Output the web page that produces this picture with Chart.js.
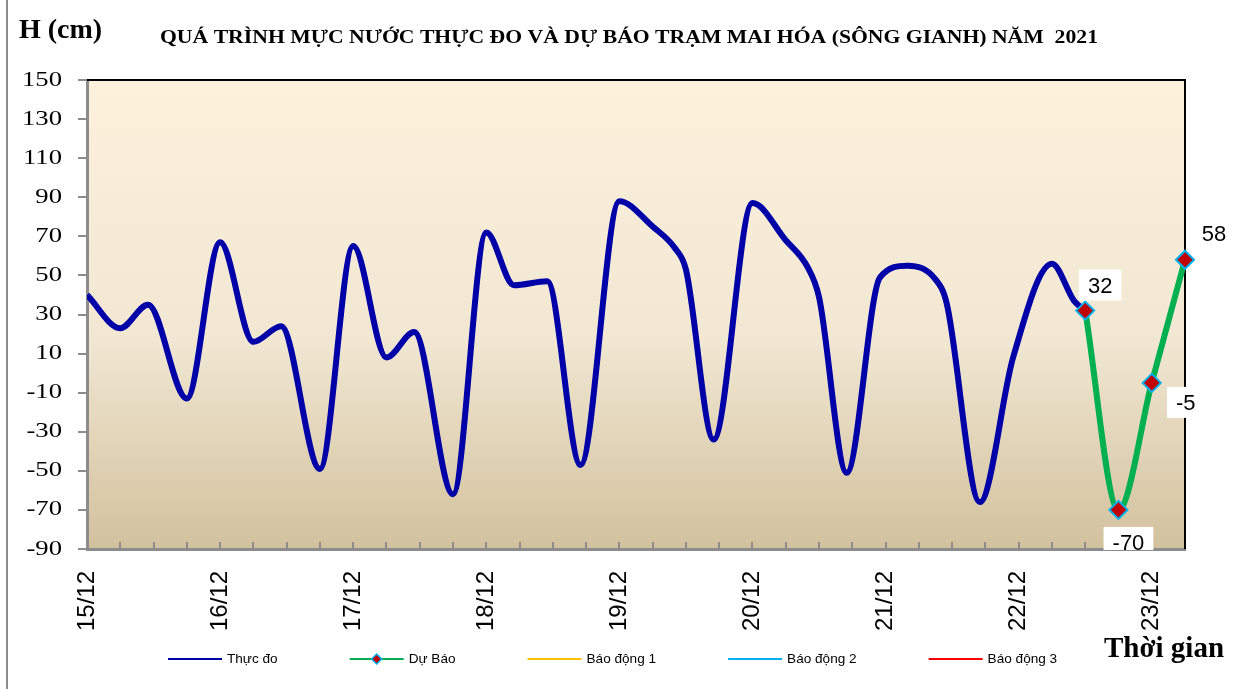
<!DOCTYPE html>
<html>
<head>
<meta charset="utf-8">
<script src="https://cdn.jsdelivr.net/npm/chart.js@4.4.0/dist/chart.umd.min.js"></script>
<style>
  html, body { margin: 0; padding: 0; background: #fff; }
  canvas { display: block; }
</style>
</head>
<body>
<canvas id="waterLevel" width="1237" height="689"></canvas>
<script>
// nhãn ngày trên trục hoành (mỗi 24 giờ)
const dayLabels = ['15/12', '16/12', '17/12', '18/12', '19/12', '20/12', '21/12', '22/12', '23/12'];

// số giờ tính từ 00h ngày 15/12
const measuredHours = [0, 6, 11, 18, 24, 30, 35, 42, 48, 54, 59, 66, 72, 77, 83, 89, 96, 102, 106, 108,
  113, 120, 126, 130, 132, 137, 143, 148, 153, 155, 161, 167, 174, 178, 180];
const measuredLevels = [40, 23, 35, -13, 67, 16, 24, -49, 65, 8, 21, -62, 72, 45, 47, -47, 88, 75, 64, 53,
  -34, 87, 68, 54, 39, -51, 49, 55, 48, 36, -66, 8, 56, 37, 32];

const forecastHours = [180, 186, 192, 198];
const forecastLevels = [32, -70, -5, 58];

const alarmNames = ['Báo động 1', 'Báo động 2', 'Báo động 3'];
const alarmColors = ['#ffc000', '#00b0f0', '#ff0000'];

// vị trí nhãn giá trị dự báo so với điểm (px)
const labelOffsets = [[15, -25], [10, 33], [34, 20], [29, -26]];

const toPoints = (xs, ys) => xs.map((x, i) => ({ x: x, y: ys[i] }));

const ctx = document.getElementById('waterLevel').getContext('2d');

const plotBg = {
  id: 'plotBg',
  beforeDraw(chart) {
    const c = chart.ctx, a = chart.chartArea;
    c.save();
    c.fillStyle = '#fff';
    c.fillRect(0, 0, chart.width, chart.height);
    const g = c.createLinearGradient(0, a.top, 0, a.bottom);
    g.addColorStop(0, '#fdf1dc');
    g.addColorStop(0.55, '#f1e7d3');
    g.addColorStop(1, '#d2c19d');
    c.fillStyle = g;
    c.fillRect(a.left, a.top, a.right - a.left, a.bottom - a.top);
    // khung ngoài bên trái
    c.strokeStyle = '#8c8c8c';
    c.lineWidth = 2;
    c.beginPath();
    c.moveTo(7, 0);
    c.lineTo(7, chart.height);
    c.stroke();
    c.restore();
  },
  beforeDatasetsDraw(chart) {
    const c = chart.ctx, a = chart.chartArea, xs = chart.scales.x;
    c.save();
    // vạch chia hướng vào trong trên trục hoành
    c.strokeStyle = '#8c8c8c';
    c.lineWidth = 2;
    xs.ticks.forEach(t => {
      const px = Math.round(xs.getPixelForValue(t.value));
      c.beginPath();
      c.moveTo(px, a.bottom - 7);
      c.lineTo(px, a.bottom);
      c.stroke();
    });
    // viền trên và phải
    c.strokeStyle = '#000';
    c.lineWidth = 2;
    c.beginPath();
    c.moveTo(a.left, a.top);
    c.lineTo(a.right, a.top);
    c.lineTo(a.right, a.bottom);
    c.stroke();
    c.restore();
  },
  afterDatasetsDraw(chart) {
    const c = chart.ctx, a = chart.chartArea;
    const meta = chart.getDatasetMeta(1);
    c.save();
    c.beginPath();
    c.rect(0, 0, chart.width, a.bottom + 1);
    c.clip();
    c.font = '22px "Liberation Sans", Arial, sans-serif';
    c.textAlign = 'center';
    c.textBaseline = 'middle';
    meta.data.forEach((pt, i) => {
      const txt = String(forecastLevels[i]);
      const cx = pt.x + labelOffsets[i][0], cy = pt.y + labelOffsets[i][1];
      const w = c.measureText(txt).width + 18;
      c.fillStyle = '#fff';
      c.fillRect(cx - w / 2, cy - 16, w, 31);
      c.fillStyle = '#000';
      c.fillText(txt, cx, cy + 1);
    });
    c.restore();
  },
  afterDraw(chart) {
    const c = chart.ctx, ys = chart.scales.y;
    c.save();
    c.fillStyle = '#000';
    // nhãn trục tung (chữ giãn ngang như bản gốc)
    c.font = '21px "Liberation Serif", "Times New Roman", serif';
    c.textAlign = 'right';
    c.textBaseline = 'middle';
    ys.ticks.forEach(t => {
      c.save();
      c.translate(62, ys.getPixelForValue(t.value));
      c.scale(1.27, 1);
      c.fillText(String(t.value), 0, 0);
      c.restore();
    });
    c.textBaseline = 'alphabetic';
    c.textAlign = 'left';
    // đơn vị trục tung
    c.font = 'bold 28px "Liberation Serif", "Times New Roman", serif';
    c.fillText('H (cm)', 19, 38);
    // tiêu đề
    const title = 'QUÁ TRÌNH MỰC NƯỚC THỰC ĐO VÀ DỰ BÁO TRẠM MAI HÓA (SÔNG GIANH) NĂM  2021';
    c.font = 'bold 19px "Liberation Serif", "Times New Roman", serif';
    const tw = c.measureText(title).width;
    c.save();
    c.translate(160, 43);
    c.scale(938 / tw, 1);
    c.fillText(title, 0, 0);
    c.restore();
    // tên trục hoành
    c.font = 'bold 29px "Liberation Serif", "Times New Roman", serif';
    c.fillText('Thời gian', 1104, 657);
    // chú giải
    c.font = '13.6px "Liberation Sans", Arial, sans-serif';
    c.textBaseline = 'middle';
    let x = 168;
    const y = 659;
    chart.data.datasets.forEach(ds => {
      c.strokeStyle = ds.borderColor;
      c.lineWidth = 2;
      c.beginPath();
      c.moveTo(x, y);
      c.lineTo(x + 54, y);
      c.stroke();
      if (ds.pointRadius > 0) {
        c.fillStyle = ds.pointBackgroundColor;
        c.strokeStyle = ds.pointBorderColor;
        c.lineWidth = 1.5;
        c.beginPath();
        c.moveTo(x + 27, y - 5);
        c.lineTo(x + 32, y);
        c.lineTo(x + 27, y + 5);
        c.lineTo(x + 22, y);
        c.closePath();
        c.fill();
        c.stroke();
      }
      c.fillStyle = '#000';
      c.fillText(ds.label, x + 59, y);
      x += 59 + c.measureText(ds.label).width + 72;
    });
    c.restore();
  }
};

const datasets = [
  {
    label: 'Thực đo',
    data: toPoints(measuredHours, measuredLevels),
    borderColor: '#0000a8',
    borderWidth: 6,
    pointRadius: 0,
    cubicInterpolationMode: 'monotone',
    order: 2
  },
  {
    label: 'Dự Báo',
    data: toPoints(forecastHours, forecastLevels),
    borderColor: '#00b050',
    borderWidth: 6,
    pointStyle: 'rectRot',
    pointRadius: 9,
    pointBackgroundColor: '#c00000',
    pointBorderColor: '#00b0f0',
    pointBorderWidth: 2,
    cubicInterpolationMode: 'monotone',
    clip: false,
    order: 1
  }
];
alarmNames.forEach((name, i) => {
  datasets.push({ label: name, data: [], borderColor: alarmColors[i], borderWidth: 2, pointRadius: 0, order: 3 });
});

const waterChart = new Chart(ctx, {
  type: 'line',
  data: { datasets: datasets },
  options: {
    responsive: false,
    animation: false,
    layout: { padding: { top: 80, right: 52, left: 0, bottom: 0 } },
    plugins: { legend: { display: false }, tooltip: { enabled: false } },
    scales: {
      x: {
        type: 'linear',
        min: 0,
        max: 198,
        afterFit: s => { s.height = 140; },
        ticks: {
          stepSize: 6,
          autoSkip: false,
          minRotation: 90,
          maxRotation: 90,
          padding: 22,
          color: '#000',
          font: { family: '"Liberation Sans Narrow", "Liberation Sans", Arial, sans-serif', size: 24 },
          callback: v => (v % 24 === 0 ? dayLabels[v / 24] : '')
        },
        grid: { drawOnChartArea: false, drawTicks: false },
        border: { color: '#8c8c8c', width: 3 }
      },
      y: {
        min: -90,
        max: 150,
        afterFit: s => { s.width = 87; },
        ticks: {
          stepSize: 20,
          padding: 17,
          color: 'rgba(0,0,0,0)',
          font: { family: '"Liberation Serif", "Times New Roman", serif', size: 21 }
        },
        grid: { drawOnChartArea: false, drawTicks: true, tickLength: 9, color: '#8c8c8c', lineWidth: 2 },
        border: { color: '#8c8c8c', width: 3 }
      }
    }
  },
  plugins: [plotBg]
});
</script>
</body>
</html>
